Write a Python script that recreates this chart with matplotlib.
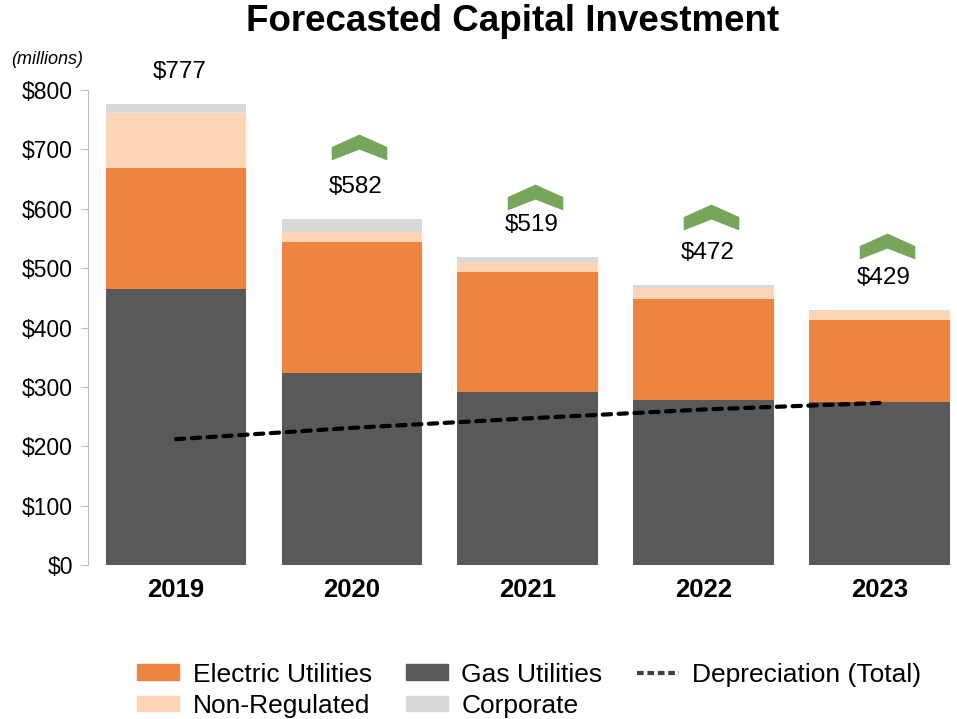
import matplotlib.pyplot as plt
import matplotlib.transforms as mtransforms
from matplotlib.path import Path
from matplotlib.patches import Patch
from matplotlib.lines import Line2D

# Forecasted capital investment by segment ($ millions)
years = ["2019", "2020", "2021", "2022", "2023"]
gas = [465, 323, 291, 278, 274]
electric = [203, 221, 202, 170, 138]
non_regulated = [93, 17, 17, 18, 15]
corporate = [16, 21, 9, 6, 2]
totals = [777, 582, 519, 472, 429]
depreciation = [212, 231, 247, 262, 273]
yticks = [0, 100, 200, 300, 400, 500, 600, 700, 800]

# colours
c_elec = "#ED843F"
c_gas = "#595959"
c_nonreg = "#FBD5B5"
c_corp = "#D9D9D9"
c_green = "#77A55C"

# pixel offsets of the green chevrons above each bar top
chevron_offsets = [None, 72, 60, 68, 64]

plt.rcParams["font.family"] = ["Liberation Sans", "DejaVu Sans"]

fig = plt.figure(figsize=(9.57, 7.19), dpi=100)
ax = fig.add_axes([0.092, 0.214, 0.908, 0.661])

x = list(range(len(years)))
w = 0.8
b2 = [g + e for g, e in zip(gas, electric)]
b3 = [a + n for a, n in zip(b2, non_regulated)]

ax.bar(x, gas, w, color=c_gas)
ax.bar(x, electric, w, bottom=gas, color=c_elec)
ax.bar(x, non_regulated, w, bottom=b2, color=c_nonreg)
ax.bar(x, corporate, w, bottom=b3, color=c_corp)

ax.plot(x, depreciation, color="black", lw=3, ls=(0, (2.0, 1.8)), dash_capstyle="round")

# chevron (up arrow) shape
chev = Path([(-1, 0.015), (0, 0.465), (1, 0.015), (1, -0.465), (0, -0.075), (-1, -0.465), (-1, 0.015)],
            [Path.MOVETO] + [Path.LINETO] * 5 + [Path.CLOSEPOLY])

for i, t in enumerate(totals):
    ax.annotate(f"${t}", (i, t), xytext=(3, 32 * 0.72), textcoords="offset points",
                ha="center", va="center", fontsize=17.5, annotation_clip=False)
    if chevron_offsets[i] is not None:
        off = mtransforms.ScaledTranslation(7 / 100, chevron_offsets[i] / 100, fig.dpi_scale_trans)
        ax.plot(i, t, marker=chev, markersize=40, color=c_green, mew=0,
                clip_on=False, transform=ax.transData + off)

ax.set_xlim(-0.5, 4.44)
ax.set_ylim(0, 800)
ax.set_xticks(x)
ax.set_xticklabels(years, fontsize=18.5, fontweight="bold")
ax.set_yticks(yticks)
ax.set_yticklabels([f"${v}" for v in yticks], fontsize=16.5)
ax.tick_params(axis="x", length=0, pad=9)
ax.tick_params(axis="y", length=5, color="#BFBFBF", pad=6)
for s in ["top", "right", "bottom"]:
    ax.spines[s].set_visible(False)
ax.spines["left"].set_color("#BFBFBF")

fig.text(0.536, 0.970, "Forecasted Capital Investment", ha="center", va="center",
         fontsize=26.5, fontweight="bold")
fig.text(0.012, 0.917, "(millions)", ha="left", va="center", fontsize=13, style="italic")

handles = [
    Patch(color=c_elec, label="Electric Utilities"),
    Patch(color=c_nonreg, label="Non-Regulated"),
    Patch(color=c_gas, label="Gas Utilities"),
    Patch(color=c_corp, label="Corporate"),
    Line2D([], [], color="#404040", lw=3, ls=(0, (1.6, 0.9)), label="Depreciation (Total)"),
]
fig.legend(handles=handles, ncol=3, loc="center", bbox_to_anchor=(0.553, 0.040),
           frameon=False, fontsize=19, handlelength=1.6, handleheight=0.55,
           columnspacing=1.3, labelspacing=0.27, handletextpad=0.5, borderpad=0)

fig.savefig("out.png", dpi=100)
